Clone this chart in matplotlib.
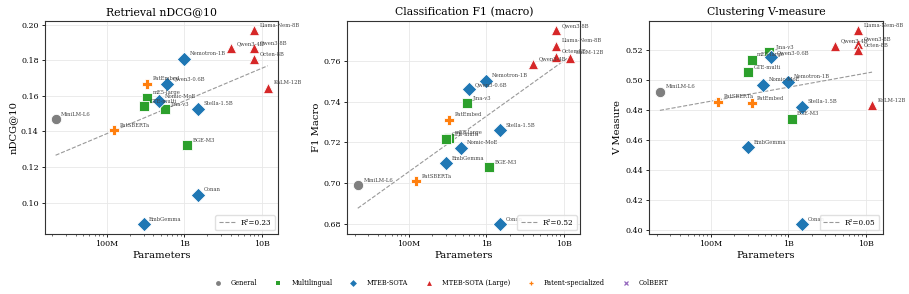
import numpy as np
import matplotlib
matplotlib.use("Agg")
import matplotlib.pyplot as plt
from matplotlib.ticker import FixedLocator, FixedFormatter

plt.rcParams['font.family'] = 'serif'
plt.rcParams['font.serif'] = ['DejaVu Serif']

models = ["MiniLM-L6", "PatSBERTa", "PatEmbed", "mE5-large", "GTE-multi", "Jina-v3", "BGE-M3",
          "Nemotron-1B", "Qwen3-0.6B", "Nomic-MoE", "Stella-1.5B", "Conan", "EmbGemma",
          "Qwen3-4B", "Qwen3-8B", "Llama-Nem-8B", "Octen-8B", "KaLM-12B"]
params = [22e6, 124e6, 335e6, 335e6, 305e6, 570e6, 1.1e9,
          1.0e9, 0.6e9, 475e6, 1.5e9, 1.5e9, 300e6,
          4e9, 8e9, 8e9, 8e9, 12e9]
groups = ["General", "Patent-specialized", "Patent-specialized", "Multilingual", "Multilingual", "Multilingual", "Multilingual",
          "MTEB-SOTA", "MTEB-SOTA", "MTEB-SOTA", "MTEB-SOTA", "MTEB-SOTA", "MTEB-SOTA",
          "MTEB-SOTA (Large)", "MTEB-SOTA (Large)", "MTEB-SOTA (Large)", "MTEB-SOTA (Large)", "MTEB-SOTA (Large)"]

retrieval = [0.1467, 0.1407, 0.1667, 0.1590, 0.1542, 0.1525, 0.1323,
             0.1807, 0.1667, 0.1570, 0.1527, 0.1043, 0.0878,
             0.1866, 0.1869, 0.1968, 0.1804, 0.1645]
classification = [0.6990, 0.7010, 0.7312, 0.7223, 0.7215, 0.7392, 0.7078,
                  0.7502, 0.7460, 0.7174, 0.7260, 0.6800, 0.7098,
                  0.7585, 0.7748, 0.7673, 0.7618, 0.7613]
clustering = [0.4924, 0.4855, 0.4847, 0.5135, 0.5053, 0.5187, 0.4742,
              0.4991, 0.5153, 0.4969, 0.4822, 0.4038, 0.4553,
              0.5227, 0.5242, 0.5333, 0.5200, 0.4833]

titles = ["Retrieval nDCG@10", "Classification F1 (macro)", "Clustering V-measure"]
ylabels = ["nDCG@10", "F1 Macro", "V Measure"]
r2_labels = ["R²=0.23", "R²=0.52", "R²=0.05"]

group_names = ["General", "Multilingual", "MTEB-SOTA", "MTEB-SOTA (Large)", "Patent-specialized", "ColBERT"]
group_colors = {"General": "#7f7f7f", "Multilingual": "#2ca02c", "MTEB-SOTA": "#1f77b4",
                "MTEB-SOTA (Large)": "#d62728", "Patent-specialized": "#ff7f0e", "ColBERT": "#9467bd"}
group_markers = {"General": "o", "Multilingual": "s", "MTEB-SOTA": "D",
                 "MTEB-SOTA (Large)": "^", "Patent-specialized": "P", "ColBERT": "X"}
legend_markers = {"General": "o", "Multilingual": "s", "MTEB-SOTA": "D",
                  "MTEB-SOTA (Large)": "^", "Patent-specialized": "+", "ColBERT": "x"}

params = np.array(params)
groups = np.array(groups)

fig, axes = plt.subplots(1, 3, figsize=(9.09, 2.94), dpi=100)
fig.subplots_adjust(left=0.0495, right=0.971, top=0.930, bottom=0.204, wspace=0.295)

for ax, values, title, ylabel, r2 in zip(axes, [retrieval, classification, clustering], titles, ylabels, r2_labels):
    values = np.array(values)
    ax.set_xscale("log")
    for g in group_names:
        sel = groups == g
        if not sel.any():
            continue
        ax.scatter(params[sel], values[sel], c=group_colors[g], marker=group_markers[g],
                   s=55, edgecolors="white", linewidths=0.6, zorder=3)
    for name, x, y in zip(models, params, values):
        ax.annotate(name, (x, y), xytext=(4, 2.5), textcoords="offset points",
                    fontsize=3.8, color="#444444", zorder=4)

    # log-linear trend
    lx = np.log10(params)
    coef = np.polyfit(lx, values, 1)
    xs = np.linspace(lx.min(), lx.max(), 50)
    ax.plot(10 ** xs, np.polyval(coef, xs), "--", color="#999999", lw=0.8, label=r2, zorder=2)
    ax.legend(loc="lower right", fontsize=5.2, handlelength=2.2, framealpha=0.9,
              edgecolor="#dddddd", borderpad=0.5)

    ax.set_title(title, fontsize=7.8, pad=4)
    ax.set_ylabel(ylabel, fontsize=7.2, labelpad=2)
    ax.set_xlabel("Parameters", fontsize=7.2, labelpad=2)
    ax.xaxis.set_major_locator(FixedLocator([1e8, 1e9, 1e10]))
    ax.xaxis.set_major_formatter(FixedFormatter(["100M", "1B", "10B"]))
    ax.tick_params(axis="both", labelsize=5.7, length=2.5, width=0.6, pad=2)
    ax.tick_params(axis="x", which="minor", length=1.5, width=0.4)
    ax.grid(True, color="#e8e8e8", linewidth=0.6, zorder=0)
    ax.grid(False, which="minor")
    for sp in ax.spines.values():
        sp.set_color("#333333")
        sp.set_linewidth(0.8)

handles = [plt.Line2D([], [], ls="", marker=legend_markers[g], color=group_colors[g],
                      markersize=3.5, markeredgewidth=0.9 if g in ("Patent-specialized", "ColBERT") else 0)
           for g in group_names]
fig.legend(handles, group_names, loc="center", bbox_to_anchor=(0.484, 0.038), ncol=6,
           frameon=False, fontsize=4.7, columnspacing=2.2, handletextpad=1.0)

fig.savefig("out.png", dpi=100)
